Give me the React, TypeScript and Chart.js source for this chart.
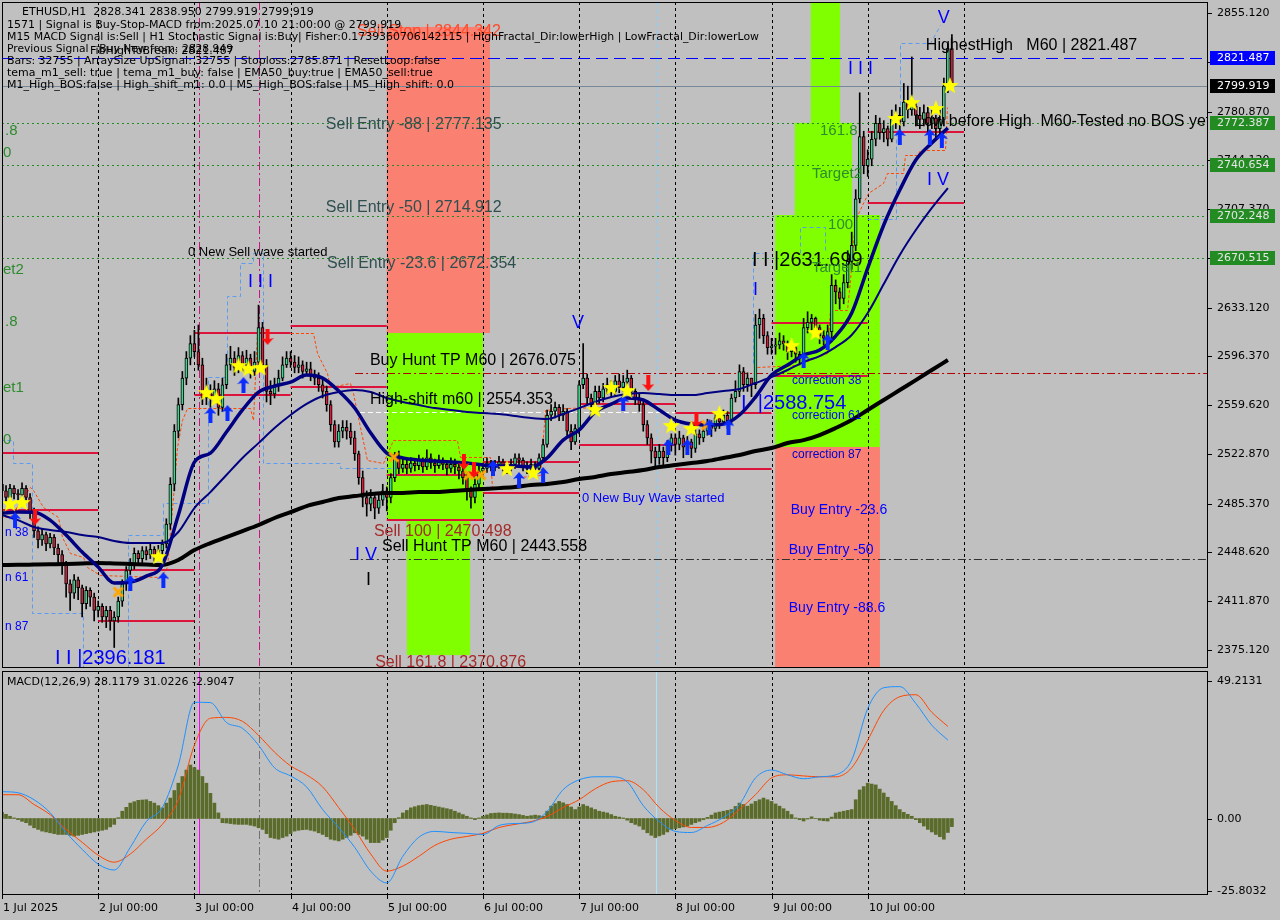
import React, { useEffect, useRef } from "react";
import { Chart, registerables } from "chart.js";

Chart.register(...registerables);

// ---------------- data ----------------
const FIRST_OPEN = 2500;

const closes = [
  2495, 2490, 2497, 2493, 2492, 2497, 2490, 2478, 2465, 2458, 2462, 2455, 2460, 2452, 2447, 2440, 2425, 2418, 2428, 2422, 2410, 2420, 2415, 2405,
  2408, 2400, 2405, 2397, 2400, 2412, 2425, 2435, 2440, 2448, 2444, 2450, 2447, 2451, 2446, 2450, 2455, 2470, 2500, 2540, 2560, 2580, 2595, 2606,
  2600, 2590, 2565, 2570, 2565, 2572, 2558, 2575, 2590, 2595, 2588, 2597, 2590, 2595, 2585, 2592, 2618, 2590, 2570, 2568, 2575, 2580, 2590, 2595,
  2592, 2588, 2590, 2585, 2587, 2582, 2580, 2575, 2570, 2560, 2545, 2532, 2540, 2543, 2540, 2535, 2523, 2505, 2490, 2485, 2490, 2482, 2488, 2495,
  2490, 2505, 2520, 2512, 2515, 2512, 2516, 2514, 2518, 2513, 2520, 2516, 2514, 2518, 2515, 2512, 2515, 2513, 2510, 2505, 2495, 2490, 2500, 2510,
  2512, 2516, 2513, 2515, 2517, 2514, 2512, 2515, 2520, 2518, 2514, 2512, 2515, 2512, 2520, 2530, 2552, 2555, 2558, 2552, 2555, 2540, 2532, 2542,
  2575, 2580, 2565, 2560, 2570, 2565, 2572, 2575, 2570, 2578, 2573, 2577, 2580, 2570, 2565, 2560, 2545, 2535, 2525, 2520, 2525, 2520, 2530, 2535,
  2530, 2535, 2528, 2532, 2527, 2538, 2535, 2540, 2545, 2542, 2550, 2547, 2552, 2548, 2565, 2570, 2585, 2575, 2580, 2575, 2620, 2625, 2612, 2603,
  2604, 2605, 2608, 2606, 2600, 2603, 2598, 2595, 2618, 2622, 2625, 2618, 2612, 2610, 2615, 2650, 2645, 2640, 2652, 2668, 2680, 2715, 2762, 2740,
  2745, 2760, 2772, 2765, 2768, 2760, 2775, 2778, 2773, 2788, 2782, 2785, 2778, 2775, 2780, 2772, 2776, 2768, 2775, 2800, 2828.341, 2799.919,
];

const highs = [
  2504, 2499, 2500, 2499, 2496, 2501, 2499, 2493, 2482, 2468, 2466, 2464, 2463, 2462, 2455, 2450, 2442, 2428, 2432, 2430, 2424, 2423, 2422, 2418,
  2412, 2410, 2408, 2408, 2404, 2415, 2428, 2438, 2444, 2452, 2450, 2453, 2453, 2455, 2453, 2454, 2458, 2474, 2505, 2545, 2565, 2585, 2600, 2612,
  2616, 2620, 2595, 2580, 2575, 2578, 2576, 2580, 2598, 2604, 2600, 2603, 2600, 2601, 2598, 2600, 2635, 2622, 2594, 2578, 2580, 2586, 2596, 2600,
  2600, 2597, 2596, 2593, 2592, 2592, 2586, 2584, 2580, 2574, 2563, 2548, 2545, 2548, 2548, 2546, 2540, 2525, 2510, 2495, 2496, 2493, 2492, 2500,
  2498, 2508, 2524, 2525, 2520, 2518, 2520, 2519, 2522, 2520, 2526, 2523, 2519, 2522, 2520, 2518, 2520, 2519, 2516, 2514, 2509, 2498, 2504, 2514,
  2516, 2520, 2518, 2518, 2521, 2519, 2516, 2519, 2523, 2523, 2520, 2517, 2519, 2517, 2523, 2534, 2556, 2560, 2562, 2560, 2560, 2557, 2545, 2545,
  2578, 2606, 2583, 2568, 2574, 2574, 2576, 2580, 2578, 2582, 2583, 2582, 2586, 2582, 2572, 2568, 2562, 2548, 2538, 2528, 2530, 2528, 2533, 2538,
  2538, 2540, 2537, 2536, 2534, 2542, 2541, 2545, 2549, 2548, 2554, 2553, 2556, 2555, 2568, 2578, 2590, 2588, 2584, 2580, 2628, 2632, 2628, 2615,
  2610, 2610, 2614, 2612, 2608, 2607, 2604, 2600, 2625, 2630, 2628, 2626, 2620, 2616, 2620, 2658, 2654, 2648, 2658, 2676, 2690, 2722, 2795, 2766,
  2752, 2766, 2778, 2776, 2774, 2770, 2782, 2786, 2784, 2802, 2800, 2822, 2788, 2784, 2786, 2784, 2782, 2778, 2782, 2806, 2832, 2838.95,
];

const lows = [
  2490, 2486, 2488, 2489, 2488, 2490, 2486, 2474, 2460, 2452, 2454, 2450, 2452, 2447, 2440, 2432, 2415, 2405, 2414, 2413, 2400, 2406, 2408, 2397,
  2400, 2396, 2392, 2390, 2377, 2396, 2408, 2420, 2432, 2436, 2440, 2441, 2443, 2444, 2442, 2443, 2447, 2452, 2466, 2495, 2535, 2556, 2575, 2590,
  2596, 2586, 2560, 2560, 2558, 2562, 2552, 2555, 2572, 2586, 2582, 2584, 2585, 2586, 2580, 2582, 2588, 2585, 2562, 2560, 2565, 2570, 2578, 2588,
  2588, 2584, 2584, 2580, 2582, 2578, 2575, 2570, 2565, 2555, 2540, 2528, 2528, 2535, 2534, 2530, 2518, 2500, 2483, 2476, 2480, 2474, 2478, 2484,
  2480, 2486, 2502, 2508, 2509, 2508, 2509, 2510, 2511, 2509, 2511, 2512, 2509, 2512, 2511, 2507, 2509, 2508, 2504, 2500, 2488, 2482, 2486, 2496,
  2507, 2509, 2510, 2510, 2512, 2510, 2508, 2510, 2512, 2514, 2510, 2508, 2509, 2508, 2510, 2518, 2528, 2548, 2550, 2548, 2548, 2536, 2526, 2530,
  2538, 2572, 2560, 2555, 2557, 2561, 2562, 2568, 2566, 2566, 2569, 2570, 2574, 2566, 2560, 2555, 2540, 2530, 2516, 2513, 2515, 2514, 2517, 2525,
  2522, 2526, 2520, 2524, 2520, 2524, 2530, 2532, 2537, 2536, 2540, 2542, 2545, 2542, 2545, 2562, 2566, 2570, 2570, 2566, 2572, 2610, 2606, 2598,
  2598, 2598, 2602, 2601, 2594, 2596, 2592, 2590, 2592, 2614, 2616, 2612, 2606, 2605, 2606, 2610, 2636, 2632, 2636, 2648, 2662, 2676, 2712, 2734,
  2732, 2740, 2755, 2760, 2758, 2755, 2758, 2768, 2766, 2770, 2776, 2778, 2770, 2768, 2770, 2765, 2768, 2760, 2762, 2770, 2795, 2799.919,
];

// moving averages, one value every MA_STEP bars
const MA_STEP = 4;
const maFast = [
  2478.3, 2479.1, 2479.0, 2473.0, 2461.7, 2448.9, 2437.6, 2425.6, 2426.3, 2430.8,
  2439.1, 2476.8, 2516.7, 2523.5, 2539.4, 2556.0, 2569.5, 2574.0, 2577.0, 2582.3,
  2580.0, 2570.3, 2557.5, 2538.6, 2523.5, 2519.8, 2518.3, 2517.5, 2516.8, 2516.0,
  2514.5, 2513.7, 2513.7, 2513.0, 2519.8, 2533.3, 2540.9, 2554.4, 2560.4, 2565.0,
  2563.5, 2556.0, 2548.4, 2545.4, 2544.6, 2545.4, 2552.2, 2565.7, 2582.3, 2589.8,
  2597.4, 2601.2, 2611.7, 2629.0, 2662.9, 2695.4, 2721.7, 2744.3, 2757.2, 2768.5,
];
const maMid = [
  2476.8, 2473.0, 2467.8, 2465.5, 2464.0, 2461.7, 2460.2, 2457.2, 2455.7, 2455.7,
  2455.7, 2464.0, 2482.1, 2494.1, 2507.0, 2519.8, 2531.0, 2542.4, 2552.2, 2560.5,
  2566.5, 2569.5, 2571.0, 2569.5, 2565.0, 2562.0, 2559.7, 2557.4, 2556.0, 2554.4,
  2553.7, 2552.9, 2551.4, 2549.9, 2549.2, 2552.9, 2557.4, 2562.0, 2565.7, 2568.0,
  2568.7, 2568.0, 2567.2, 2567.2, 2568.7, 2570.3, 2571.8, 2576.3, 2580.8, 2586.1,
  2592.1, 2596.6, 2603.4, 2612.5, 2629.0, 2650.9, 2672.8, 2691.6, 2708.2, 2723.2,
];
const ma200 = [
  2439.2, 2439.3, 2439.5, 2439.7, 2439.9, 2440.3, 2440.6, 2440.3, 2439.9, 2439.5,
  2439.2, 2442.9, 2450.4, 2455.7, 2460.2, 2464.7, 2469.3, 2474.6, 2479.0, 2483.6,
  2486.6, 2489.6, 2491.1, 2492.6, 2493.4, 2493.4, 2494.1, 2494.1, 2494.9, 2495.7,
  2496.4, 2497.1, 2497.9, 2499.4, 2500.2, 2501.7, 2503.9, 2505.5, 2507.7, 2509.2,
  2510.7, 2513.0, 2514.5, 2516.0, 2517.5, 2519.8, 2522.0, 2525.1, 2527.3, 2531.1,
  2533.3, 2537.1, 2542.4, 2548.4, 2556.0, 2563.5, 2571.0, 2578.5, 2586.1, 2593.6,
];

// channel (light blue dashed) step paths: [bar index, price]
const channelPaths = [
  [[-0.5, 2533.3], [2.74, 2533.3], [2.74, 2516.0], [7.48, 2516.0], [7.48, 2402.9], [20.2, 2402.9], [20.2, 2361.5]],
  [[31.4, 2361.5], [31.4, 2461.7], [40.2, 2461.7], [40.2, 2485.8], [51.4, 2485.8], [51.4, 2580.8], [56.1, 2580.8], [56.1, 2641.9], [59.4, 2641.9], [59.4, 2666.7], [62.6, 2666.7], [62.6, 2674.3], [65.1, 2674.3], [65.1, 2516.0], [84.3, 2516.0], [84.3, 2512.2], [99.3, 2512.2]],
  [[187.4, 2591.4], [187.4, 2674.3], [189.9, 2674.3]],
  [[199.1, 2674.3], [199.1, 2693.8], [205.3, 2693.8], [205.3, 2674.3]],
  [[215.8, 2699.9], [223.0, 2699.9], [223.0, 2766.9], [224.0, 2766.9], [224.0, 2832.5], [231.5, 2832.5], [234.0, 2846.1]],
];

// trailing stop (orange dashed) paths: [bar index, price]
const trailPaths = [
  [[-0.5, 2475.3], [2.0, 2475.3], [7.0, 2497.9], [7.7, 2495.7], [10.2, 2482.8], [14.0, 2475.3], [15.0, 2460.2], [17.0, 2448.2], [20.2, 2445.2], [21.2, 2437.6], [24.4, 2431.6], [39.4, 2430.1], [41.2, 2437.6], [42.7, 2490.4], [43.7, 2528.0], [44.9, 2548.4], [46.2, 2557.4], [61.9, 2557.4], [62.6, 2548.4], [63.6, 2614.0], [77.6, 2614.0], [78.6, 2598.9], [81.1, 2583.8], [81.8, 2573.3], [86.8, 2576.3], [87.6, 2568.7], [89.3, 2543.1], [91.1, 2518.3], [95.1, 2516.0], [97.5, 2533.3], [113.5, 2533.3], [114.3, 2520.5], [121.7, 2520.5], [122.2, 2497.9], [128.5, 2497.9], [129.2, 2505.4], [134.2, 2507.0], [135.5, 2555.9], [141.0, 2557.4], [149.2, 2558.2]],
  [[188.4, 2588.3], [198.3, 2589.8], [205.8, 2598.9], [206.6, 2631.3], [210.8, 2631.3], [211.6, 2653.9], [212.8, 2699.1], [214.6, 2710.4], [216.0, 2719.5], [219.8, 2727.0], [220.8, 2734.5], [224.8, 2734.5], [225.3, 2748.1], [228.3, 2748.1], [229.0, 2751.9], [235.3, 2751.9], [235.8, 2784.3]],
];

// MACD lines, one value every MACD_STEP bars
const MACD_STEP = 4;
const macdMain = [
  9.6, 9.2, 6.7, 2.1, -5.0, -11.0, -16.3, -18.4, -10.3, -1.1,
  3.9, 19.1, 41.5, 41.4, 34.3, 32.2, 26.2, 18.1, 15.2, 11.3,
  3.2, -3.2, -10.3, -18.8, -23.0, -13.5, -6.7, -4.6, -5.0, -5.3,
  -5.7, -2.5, -1.8, -1.4, 2.5, 10.3, 13.8, 14.9, 14.9, 13.1,
  4.6, -1.1, -4.6, -5.0, -2.5, 0.4, 5.0, 14.5, 17.3, 15.6,
  14.2, 14.9, 15.6, 20.9, 39.3, 46.7, 47.1, 41.1, 33.3, 28.0,
];
const macdSignal = [
  8.5, 8.5, 5.0, 1.4, -3.9, -8.5, -13.1, -15.6, -12.7, -7.4,
  -2.1, 6.7, 26.2, 35.8, 36.1, 34.7, 29.7, 23.7, 18.8, 15.6,
  11.3, 3.9, -3.9, -12.7, -18.8, -17.0, -13.5, -9.6, -7.4, -6.4,
  -5.3, -3.2, -2.1, -1.1, 0.7, 3.9, 6.7, 10.6, 13.1, 13.5,
  10.3, 3.9, -0.7, -3.2, -3.2, -1.4, 3.2, 8.5, 14.5, 15.6,
  15.2, 14.9, 14.9, 18.1, 28.0, 38.6, 43.5, 44.2, 37.9, 32.9,
];
const macdHist = [
  2.2, 1.5, 0.8, 0.2, -0.4, -1.0, -1.5, -2.4, -3.3, -3.9, -4.5, -4.8, -5.1, -5.4, -5.7, -5.7, -5.7, -6.0, -6.3, -6.0, -5.7, -5.4, -5.1, -4.8,
  -4.5, -4.2, -3.9, -3.0, -2.1, 0.3, 2.6, 4.0, 5.5, 6.0, 6.5, 6.6, 6.7, 6.1, 5.5, 4.6, 3.8, 5.5, 7.3, 10.0, 12.6, 15.0, 17.3, 19.1,
  18.2, 17.3, 15.0, 12.6, 9.0, 5.5, 2.0, -1.5, -1.6, -1.8, -2.0, -2.1, -2.1, -2.1, -2.4, -2.7, -3.3, -3.9, -5.4, -6.8, -7.1, -7.4, -6.8, -6.3,
  -5.4, -4.5, -4.2, -4.0, -3.9, -4.2, -4.5, -5.1, -5.7, -6.5, -7.4, -7.7, -8.0, -7.4, -6.8, -6.0, -5.1, -5.7, -6.3, -7.4, -8.6, -8.6, -8.6, -7.7,
  -6.8, -4.2, -1.5, 0.3, 2.0, 2.9, 3.8, 4.2, 4.6, 4.8, 5.0, 4.7, 4.4, 4.1, 3.8, 3.5, 3.2, 2.6, 2.0, 1.4, 0.8, 0.2, -0.4, 0.2,
  0.8, 1.3, 1.8, 1.9, 2.0, 1.9, 1.9, 1.8, 1.6, 1.4, 1.1, 0.8, 1.0, 1.2, 1.0, 0.8, 2.6, 4.4, 5.3, 6.1, 5.6, 5.0, 4.1, 3.2,
  4.1, 5.0, 4.4, 3.8, 3.2, 2.6, 2.3, 2.0, 1.4, 0.8, 0.5, 0.2, -0.6, -1.5, -2.1, -2.7, -3.9, -5.1, -6.0, -6.8, -6.2, -5.7, -4.8, -3.9,
  -3.6, -3.3, -3.0, -2.7, -2.1, -1.5, -1.0, -0.4, 0.4, 1.2, 2.0, 2.3, 2.6, 2.9, 3.2, 4.3, 5.5, 5.0, 4.4, 5.2, 6.1, 6.7, 7.3, 6.7,
  6.1, 5.2, 4.4, 3.5, 2.6, 1.4, 0.2, -0.4, -0.9, -0.2, 0.6, 0.05, -0.6, -0.8, -0.9, 0.5, 2.0, 2.3, 2.6, 2.9, 3.2, 6.7, 10.2, 11.4,
  12.6, 12.3, 12.0, 10.5, 9.1, 7.6, 6.1, 4.6, 3.2, 2.2, 1.5, 0.8, -0.4, -1.5, -2.7, -3.9, -4.8, -5.7, -6.5, -7.4, -5.0, -2.9,
];

const priceTicks = [2855.12, 2818.37, 2780.87, 2744.12, 2707.37, 2670.62, 2633.12, 2596.37, 2559.62, 2522.87, 2485.37, 2448.62, 2411.87, 2375.12];
const macdTicks = [49.2131, 0, -25.8032];
const macdTickLabels = ["49.2131", "0.00", "-25.8032"];
const dayTicks = [0, 24, 48, 72, 96, 120, 144, 168, 192, 216];
const dayLabels = ["1 Jul 2025", "2 Jul 00:00", "3 Jul 00:00", "4 Jul 00:00", "5 Jul 00:00", "6 Jul 00:00", "7 Jul 00:00", "8 Jul 00:00", "9 Jul 00:00", "10 Jul 00:00"];

const priceTags = [
  { v: 2821.487, bg: "#0000ff", fg: "#ffffff" },
  { v: 2799.919, bg: "#000000", fg: "#ffffff" },
  { v: 2772.387, bg: "#228b22", fg: "#e6e6e6" },
  { v: 2740.654, bg: "#228b22", fg: "#e6e6e6" },
  { v: 2702.248, bg: "#228b22", fg: "#e6e6e6" },
  { v: 2670.515, bg: "#228b22", fg: "#e6e6e6" },
];

// markers: [bar index, price]
const starPts = [[2, 2485.8], [5, 2486.6], [39, 2445.9], [51, 2569.5], [53.5, 2565], [59, 2589.8], [61.5, 2587.6], [64.5, 2588.3], [126, 2512.2], [132.5, 2509.2], [148, 2556.7], [152, 2573.3], [156, 2571], [167, 2544.6], [172, 2542.4], [179, 2553.7], [197, 2604.9], [203, 2614.7], [223, 2776], [227, 2788], [233, 2783.5], [236.5, 2800.9]];
const upArrowPts = [[3.25, 2473], [32, 2425.6], [40.25, 2427.8], [52, 2552.2], [56.25, 2553.7], [60.25, 2574.8], [122.5, 2512.2], [129, 2503.2], [135, 2507], [155, 2561.2], [166.25, 2528.1], [171, 2528.1], [176.5, 2543.1], [181.25, 2543.1], [200, 2593.6], [206, 2607.2], [224, 2761.7], [231.5, 2761.7], [234.5, 2759.4]];
const downArrowPts = [[8.25, 2475.3], [66.25, 2611], [115.25, 2516.8], [117.75, 2510.7], [161.25, 2576.3], [173.25, 2548.4]];
const crossPts = [[29, 2418.8], [97.75, 2520.5], [116.5, 2507], [119.5, 2507], [175.75, 2544.6]];

// zones: bar range and price range
const zones = [
  { x0: 96, x1: 121.75, p0: 2614.0, p1: 2844.6, color: "#fa8072" },
  { x0: 96, x1: 120, p0: 2473.0, p1: 2614.0, color: "#7fff00" },
  { x0: 101, x1: 116.8, p0: 2371.3, p1: 2473.0, color: "#7fff00" },
  { x0: 201.8, x1: 209.1, p0: 2772.3, p1: 2870, color: "#7fff00" },
  { x0: 197.8, x1: 212.1, p0: 2702.9, p1: 2772.3, color: "#7fff00" },
  { x0: 192.9, x1: 219.05, p0: 2528.1, p1: 2702.9, color: "#7fff00" },
  { x0: 192.9, x1: 219.05, p0: 2355, p1: 2528.1, color: "#fa8072" },
];

const redSegs = [
  [0, 24, 2523.5], [0, 24, 2480.6],
  [24, 48, 2435.4], [24, 48, 2397.0],
  [48, 72, 2614.0], [48, 72, 2567.3],
  [72, 96, 2619.3], [72, 96, 2573.3],
  [96, 120, 2506.9], [96, 120, 2473.0],
  [120, 144, 2516.8], [120, 144, 2493.4],
  [144, 168, 2560.5], [144, 168, 2529.6],
  [168, 192, 2553.7], [168, 192, 2511.5],
  [192, 216, 2621.5], [192, 216, 2581.6],
  [216, 240, 2765.4], [216, 240, 2711.9],
];

const levels = [
  { p: 2821.487, from: 0, to: 301, color: "#0000ff", dash: [12, 6] },
  { p: 2799.919, from: 0, to: 301, color: "#778899", dash: [] },
  { p: 2772.387, from: 0, to: 301, color: "#228b22", dash: [2, 3] },
  { p: 2740.654, from: 0, to: 301, color: "#228b22", dash: [2, 3] },
  { p: 2702.248, from: 0, to: 301, color: "#228b22", dash: [2, 3] },
  { p: 2670.515, from: 0, to: 301, color: "#228b22", dash: [2, 3] },
  { p: 2583.8, from: 88.1, to: 301, color: "#b00000", dash: [8, 3, 2, 3] },
  { p: 2554.4, from: 89.3, to: 192.4, color: "#ffffff", dash: [5, 3] },
  { p: 2443.6, from: 86.8, to: 301, color: "#303030", dash: [8, 3, 2, 3] },
];

const SE = "#2f4f4f";
const BR = "#a52a2a";
const BL = "#0000ff";
const GR = "#2e8b2e";
const texts = [
  { i: 88.6, p: 2840.8, t: "Sell Stop | 2844.342", c: "#ff4a2a", s: 16 },
  { i: 80.8, p: 2770.7, t: "Sell Entry -88 | 2777.135", c: SE, s: 16 },
  { i: 80.8, p: 2708.2, t: "Sell Entry -50 | 2714.912", c: SE, s: 16 },
  { i: 81.1, p: 2666.0, t: "Sell Entry -23.6 | 2672.354", c: SE, s: 16 },
  { i: 46.4, p: 2675.0, t: "0 New Sell wave started", c: "#000000", s: 13 },
  { i: 61.4, p: 2652.4, t: "I I I", c: BL, s: 18 },
  { i: 91.8, p: 2592.9, t: "Buy Hunt TP M60 | 2676.075", c: "#000000", s: 16 },
  { i: 91.8, p: 2563.5, t: "High-shift m60 | 2554.353", c: "#000000", s: 16 },
  { i: 92.8, p: 2464.0, t: "Sell 100 | 2470.498", c: BR, s: 16 },
  { i: 94.8, p: 2452.7, t: "Sell Hunt TP M60 | 2443.558", c: "#000000", s: 16 },
  { i: 88.1, p: 2446.7, t: "I V", c: BL, s: 18 },
  { i: 90.8, p: 2427.8, t: "I", c: "#000000", s: 18 },
  { i: 93.1, p: 2365.3, t: "Sell 161.8 | 2370.876", c: BR, s: 16 },
  { i: 142.2, p: 2621.5, t: "V", c: BL, s: 18 },
  { i: 144.7, p: 2489.6, t: "0 New Buy Wave started", c: BL, s: 13 },
  { i: 187.1, p: 2669.0, t: "I I |2631.699", c: "#000000", s: 20 },
  { i: 187.4, p: 2646.4, t: "I", c: BL, s: 18 },
  { i: 184.4, p: 2561.2, t: "I  |2588.754", c: BL, s: 20 },
  { i: 197.1, p: 2577.8, t: "correction 38", c: BL, s: 12 },
  { i: 197.1, p: 2551.4, t: "correction 61", c: BL, s: 12 },
  { i: 197.1, p: 2522.0, t: "correction 87", c: "#0000cd", s: 12 },
  { i: 196.8, p: 2480.6, t: "Buy Entry -23.6", c: BL, s: 14 },
  { i: 196.3, p: 2450.4, t: "Buy Entry -50", c: BL, s: 14 },
  { i: 196.3, p: 2406.7, t: "Buy Entry -88.6", c: BL, s: 14 },
  { i: 204.1, p: 2766.2, t: "161.8", c: GR, s: 15 },
  { i: 202.1, p: 2733.8, t: "Target2", c: GR, s: 15 },
  { i: 206.1, p: 2695.4, t: "100", c: GR, s: 15 },
  { i: 202.1, p: 2662.9, t: "Target1", c: GR, s: 15 },
  { i: 211.1, p: 2812.9, t: "I I I", c: BL, s: 18 },
  { i: 233.5, p: 2851.4, t: "V", c: BL, s: 18 },
  { i: 230.8, p: 2729.3, t: "I V", c: BL, s: 18 },
  { i: 230.5, p: 2830.3, t: "HighestHigh   M60 | 2821.487", c: "#000000", s: 16 },
  { i: 227.8, p: 2773.0, t: "Low before High  M60-Tested no BOS yet", c: "#000000", s: 16 },
  { i: 0.75, p: 2766.2, t: ".8", c: GR, s: 15 },
  { i: 0.25, p: 2749.6, t: "0", c: GR, s: 15 },
  { i: 0.25, p: 2661.4, t: "et2", c: GR, s: 15 },
  { i: 0.75, p: 2622.3, t: ".8", c: GR, s: 15 },
  { i: 0.25, p: 2572.5, t: "et1", c: GR, s: 15 },
  { i: 0.25, p: 2533.3, t: "0", c: GR, s: 15 },
  { i: 0.75, p: 2463.3, t: "n 38", c: BL, s: 12 },
  { i: 0.75, p: 2429.3, t: "n 61", c: BL, s: 12 },
  { i: 0.75, p: 2392.4, t: "n 87", c: BL, s: 12 },
  { i: 13.2, p: 2369.0, t: "I I |2396.181", c: BL, s: 20 },
];

const infoLines = [
  { x: 22, y: 12, w: 295, t: "ETHUSD,H1  2828.341 2838.950 2799.919 2799.919" },
  { x: 7, y: 25, w: 396, t: "1571 | Signal is Buy-Stop-MACD from:2025.07.10 21:00:00 @ 2799.919" },
  { x: 7, y: 37, w: 752, t: "M15 MACD Signal is:Sell | H1 Stochastic Signal is:Buy| Fisher:0.1739360706142115 | HighFractal_Dir:lowerHigh | LowFractal_Dir:lowerLow" },
  { x: 7, y: 49, w: 226, t: "Previous Signal - Buy New from: 2828.949" },
  { x: 90, y: 51, w: 157, t: "FibHighToBreak: 2821.487" },
  { x: 7, y: 61, w: 433, t: "Bars: 32755 | ArraySize UpSignal: 32755 | Stoploss:2785.871 | ResetLoop:false" },
  { x: 7, y: 73, w: 436, t: "tema_m1_sell: true | tema_m1_buy: false | EMA50_buy:true | EMA50_sell:true" },
  { x: 7, y: 85, w: 456, t: "M1_High_BOS:false | High_shift_m1: 0.0 | M5_High_BOS:false | M5_High_shift: 0.0" },
];

// ---------------- styling constants ----------------
const X_MAX = 300.9;
const Y_MIN = 2361.556;
const Y_MAX = 2863.409;
const M_MIN = -27.32;
const M_MAX = 52.68;
const BULL = "#3ed68c";
const BEAR = "#d0203c";
const AXIS_FONT = '11px "DejaVu Sans", sans-serif';
const LBL_FAMILY = '"Liberation Sans", Arial, sans-serif';

const vLinesMain = [
  ...[24, 48, 72, 96, 120, 144, 168, 192, 216, 240].map((i) => ({ i, color: "#000000", dash: [3, 3] })),
  { i: 49.1, color: "#c71585", dash: [8, 3, 2, 3] },
  { i: 64.1, color: "#c71585", dash: [8, 3, 2, 3] },
  { i: 163.2, color: "#87cefa", dash: [4, 3] },
];
const vLinesMacd = [
  ...[24, 48, 72, 96, 120, 144, 168, 192, 216, 240].map((i) => ({ i, color: "#000000", dash: [3, 3] })),
  { i: 49.1, color: "#ff00ff", dash: [] },
  { i: 64.1, color: "#707070", dash: [8, 3, 2, 3] },
  { i: 163.2, color: "#a8e4ff", dash: [] },
];

function drawVLines(chart: any, list: any[]) {
  const { ctx, chartArea: a } = chart;
  const X = (v: number) => chart.scales.x.getPixelForValue(v);
  ctx.lineWidth = 1;
  for (const v of list) {
    const xx = Math.round(X(v.i)) + 0.5;
    ctx.strokeStyle = v.color;
    ctx.setLineDash(v.dash);
    ctx.beginPath();
    ctx.moveTo(xx, a.top);
    ctx.lineTo(xx, a.bottom);
    ctx.stroke();
  }
  ctx.setLineDash([]);
}

function drawPaths(chart: any, paths: number[][][], color: string, dash: number[]) {
  const { ctx } = chart;
  const X = (v: number) => chart.scales.x.getPixelForValue(v);
  const Y = (v: number) => chart.scales.y.getPixelForValue(v);
  ctx.strokeStyle = color;
  ctx.lineWidth = 1;
  ctx.setLineDash(dash);
  for (const path of paths) {
    ctx.beginPath();
    path.forEach(([i, p], k) => {
      const xx = Math.round(X(i)) + 0.5, yy = Math.round(Y(p)) + 0.5;
      if (k === 0) ctx.moveTo(xx, yy);
      else ctx.lineTo(xx, yy);
    });
    ctx.stroke();
  }
  ctx.setLineDash([]);
}

const mainOverlay = {
  id: "mainOverlay",
  beforeDatasetsDraw(chart: any) {
    const { ctx, chartArea: a } = chart;
    const X = (v: number) => chart.scales.x.getPixelForValue(v);
    const Y = (v: number) => chart.scales.y.getPixelForValue(v);
    ctx.save();
    ctx.beginPath();
    ctx.rect(a.left, a.top, a.right - a.left, a.bottom - a.top);
    ctx.clip();
    for (const z of zones) {
      const x0 = X(z.x0), x1 = X(z.x1), y0 = Y(z.p1), y1 = Y(z.p0);
      ctx.fillStyle = z.color;
      ctx.fillRect(x0, y0, x1 - x0, y1 - y0);
    }
    drawVLines(chart, vLinesMain);
    ctx.lineWidth = 1;
    for (const l of levels) {
      const yy = Math.round(Y(l.p)) + 0.5;
      ctx.strokeStyle = l.color;
      ctx.setLineDash(l.dash);
      ctx.beginPath();
      ctx.moveTo(X(l.from), yy);
      ctx.lineTo(X(l.to), yy);
      ctx.stroke();
    }
    drawPaths(chart, channelPaths, "#5b9cf0", [4, 3]);
    drawPaths(chart, trailPaths, "#ff4500", [3, 2]);
    ctx.setLineDash([]);
    ctx.strokeStyle = "#dc143c";
    ctx.lineWidth = 2;
    for (const s of redSegs) {
      const yy = Math.round(Y(s[2]));
      ctx.beginPath();
      ctx.moveTo(X(s[0]), yy);
      ctx.lineTo(X(s[1]), yy);
      ctx.stroke();
    }
    ctx.restore();
  },
  afterDatasetsDraw(chart: any) {
    const { ctx, chartArea: a } = chart;
    const X = (v: number) => chart.scales.x.getPixelForValue(v);
    const Y = (v: number) => chart.scales.y.getPixelForValue(v);
    ctx.save();
    ctx.beginPath();
    ctx.rect(a.left, a.top, a.right - a.left, a.bottom - a.top);
    ctx.clip();
    ctx.textBaseline = "middle";
    ctx.textAlign = "left";
    for (const t of texts) {
      ctx.font = `${t.s}px ${LBL_FAMILY}`;
      ctx.fillStyle = t.c;
      ctx.fillText(t.t, X(t.i), Y(t.p));
    }
    ctx.restore();
  },
  afterDraw(chart: any) {
    const { ctx, chartArea: a } = chart;
    const Y = (v: number) => chart.scales.y.getPixelForValue(v);
    ctx.save();
    ctx.strokeStyle = "#000";
    ctx.lineWidth = 1;
    ctx.setLineDash([]);
    ctx.strokeRect(a.left + 0.5, a.top + 0.5, a.right - a.left - 1, a.bottom - a.top - 1);
    ctx.font = AXIS_FONT;
    ctx.textBaseline = "middle";
    ctx.textAlign = "left";
    ctx.fillStyle = "#000";
    for (const v of priceTicks) {
      const yy = Math.round(Y(v)) + 0.5;
      ctx.beginPath();
      ctx.moveTo(a.right, yy);
      ctx.lineTo(a.right + 4, yy);
      ctx.stroke();
      ctx.fillText(v.toFixed(3), a.right + 9, yy);
    }
    for (const g of priceTags) {
      const yy = Math.round(Y(g.v));
      ctx.fillStyle = g.bg;
      ctx.fillRect(a.right + 2, yy - 7, 65, 14);
      ctx.fillStyle = g.fg;
      ctx.fillText(g.v.toFixed(3), a.right + 9, yy + 0.5);
    }
    ctx.fillStyle = "#000";
    for (const l of infoLines) {
      ctx.fillText(l.t, l.x, l.y, l.w);
    }
    ctx.restore();
  },
};

const macdOverlay = {
  id: "macdOverlay",
  beforeDatasetsDraw(chart: any) {
    const { ctx, chartArea: a } = chart;
    ctx.save();
    ctx.beginPath();
    ctx.rect(a.left, a.top, a.right - a.left, a.bottom - a.top);
    ctx.clip();
    drawVLines(chart, vLinesMacd);
    ctx.restore();
  },
  afterDraw(chart: any) {
    const { ctx, chartArea: a } = chart;
    const X = (v: number) => chart.scales.x.getPixelForValue(v);
    const Y = (v: number) => chart.scales.y.getPixelForValue(v);
    ctx.save();
    ctx.strokeStyle = "#000";
    ctx.lineWidth = 1;
    ctx.setLineDash([]);
    ctx.strokeRect(a.left + 0.5, a.top + 0.5, a.right - a.left - 1, a.bottom - a.top - 1);
    ctx.font = AXIS_FONT;
    ctx.fillStyle = "#000";
    ctx.textBaseline = "middle";
    ctx.textAlign = "left";
    macdTicks.forEach((v, k) => {
      const yy = Math.round(Y(v)) + 0.5;
      ctx.beginPath();
      ctx.moveTo(a.right, yy);
      ctx.lineTo(a.right + 4, yy);
      ctx.stroke();
      ctx.fillText(macdTickLabels[k], a.right + 9, yy);
    });
    dayTicks.forEach((i, k) => {
      const xx = Math.round(X(i)) + 0.5;
      ctx.beginPath();
      ctx.moveTo(xx, a.bottom);
      ctx.lineTo(xx, a.bottom + 4);
      ctx.stroke();
      ctx.fillText(dayLabels[k], xx + 0.5, a.bottom + 13);
    });
    ctx.fillText("MACD(12,26,9) 28.1179 31.0226 -2.9047", 7, a.top + 11);
    ctx.restore();
  },
};

// ---------------- marker images ----------------
function makeStar(size: number, color: string) {
  const c = document.createElement("canvas");
  c.width = size;
  c.height = size;
  const g = c.getContext("2d") as CanvasRenderingContext2D;
  const cx = size / 2, cy = size / 2 + 1, R = size / 2, r = R * 0.42;
  g.beginPath();
  for (let k = 0; k < 10; k++) {
    const ang = -Math.PI / 2 + (k * Math.PI) / 5;
    const rr = k % 2 === 0 ? R : r;
    const x = cx + rr * Math.cos(ang), y = cy + rr * Math.sin(ang);
    if (k === 0) g.moveTo(x, y);
    else g.lineTo(x, y);
  }
  g.closePath();
  g.fillStyle = color;
  g.fill();
  return c;
}
function makeArrow(color: string, up: boolean) {
  const w = 12, h = 16;
  const c = document.createElement("canvas");
  c.width = w;
  c.height = h;
  const g = c.getContext("2d") as CanvasRenderingContext2D;
  const pts = [[6, 0], [12, 7], [8, 6], [8, 16], [4, 16], [4, 6], [0, 7]];
  g.beginPath();
  pts.forEach(([x, y], k) => {
    const yy = up ? y : h - y;
    if (k === 0) g.moveTo(x, yy);
    else g.lineTo(x, yy);
  });
  g.closePath();
  g.fillStyle = color;
  g.fill();
  return c;
}
function makeCross(color: string) {
  const s = 13;
  const c = document.createElement("canvas");
  c.width = s;
  c.height = s;
  const g = c.getContext("2d") as CanvasRenderingContext2D;
  g.strokeStyle = color;
  g.lineWidth = 3;
  g.beginPath();
  g.moveTo(2, 2);
  g.lineTo(11, 11);
  g.moveTo(11, 2);
  g.lineTo(2, 11);
  g.stroke();
  return c;
}

const toPts = (arr: number[][]) => arr.map(([i, p]) => ({ x: i, y: p }));
const stepLine = (arr: number[], step: number) => arr.map((v, k) => ({ x: k * step, y: v }));

function buildMainConfig(star: any, up: any, down: any, cross: any) {
  const opens = closes.map((c, i) => (i === 0 ? FIRST_OPEN : closes[i - 1]));
  const bodies = closes.map((c, i) => ({ x: i, y: [opens[i], c] }));
  const wicks = closes.map((_, i) => ({ x: i, y: [lows[i], highs[i]] }));
  const colors = closes.map((c, i) => (c >= opens[i] ? BULL : BEAR));
  const marker = (data: any, style: any) => ({ type: "line", data, showLine: false, pointStyle: style, pointRadius: 6, pointHoverRadius: 6, order: 0 });
  const maLine = (data: any, color: string, width: number, order: number) => ({ type: "line", data, borderColor: color, borderWidth: width, pointRadius: 0, cubicInterpolationMode: "monotone", fill: false, order });
  return {
    type: "bar",
    data: {
      datasets: [
        marker(toPts(starPts), star),
        marker(toPts(upArrowPts), up),
        marker(toPts(downArrowPts), down),
        marker(toPts(crossPts), cross),
        maLine(stepLine(maFast, MA_STEP), "#000080", 3.5, 1),
        maLine(stepLine(maMid, MA_STEP), "#000080", 2, 2),
        maLine(stepLine(ma200, MA_STEP), "#000000", 4, 3),
        { type: "bar", data: bodies, backgroundColor: colors, borderColor: "#000000", borderWidth: 1, borderSkipped: false, barThickness: 3, grouped: false, minBarLength: 1, order: 4 },
        { type: "bar", data: wicks, backgroundColor: "#000000", borderWidth: 0, barThickness: 1, grouped: false, order: 5 },
      ],
    },
    options: {
      responsive: false,
      animation: false,
      devicePixelRatio: 1,
      events: [],
      layout: { autoPadding: false, padding: { left: 2, top: 2, right: 72, bottom: 2 } },
      plugins: { legend: { display: false }, tooltip: { enabled: false } },
      scales: {
        x: { type: "linear", min: 0, max: X_MAX, offset: false, display: false },
        y: { type: "linear", min: Y_MIN, max: Y_MAX, display: false },
      },
    },
    plugins: [mainOverlay],
  };
}

function buildMacdConfig() {
  return {
    type: "bar",
    data: {
      datasets: [
        { type: "line", data: stepLine(macdMain, MACD_STEP), borderColor: "#1e90ff", borderWidth: 1, pointRadius: 0, cubicInterpolationMode: "monotone", order: 0 },
        { type: "line", data: stepLine(macdSignal, MACD_STEP), borderColor: "#ff4500", borderWidth: 1, pointRadius: 0, cubicInterpolationMode: "monotone", order: 1 },
        { type: "bar", data: macdHist.map((v, i) => ({ x: i, y: v })), backgroundColor: "#5b6b2b", borderWidth: 0, barThickness: 3, grouped: false, order: 2 },
      ],
    },
    options: {
      responsive: false,
      animation: false,
      devicePixelRatio: 1,
      events: [],
      layout: { autoPadding: false, padding: { left: 2, top: 1, right: 72, bottom: 25 } },
      plugins: { legend: { display: false }, tooltip: { enabled: false } },
      scales: {
        x: { type: "linear", min: 0, max: X_MAX, offset: false, display: false },
        y: { type: "linear", min: M_MIN, max: M_MAX, display: false },
      },
    },
    plugins: [macdOverlay],
  };
}

export default function App() {
  const mainRef = useRef<HTMLCanvasElement | null>(null);
  const macdRef = useRef<HTMLCanvasElement | null>(null);
  useEffect(() => {
    const star = makeStar(18, "#ffff00");
    const up = makeArrow("#0a2cff", true);
    const down = makeArrow("#ff1010", false);
    const cross = makeCross("#ffa500");
    const main = new Chart(mainRef.current as HTMLCanvasElement, buildMainConfig(star, up, down, cross) as any);
    const macd = new Chart(macdRef.current as HTMLCanvasElement, buildMacdConfig() as any);
    return () => {
      main.destroy();
      macd.destroy();
    };
  }, []);
  return (
    <div style={{ position: "absolute", left: 0, top: 0, width: 1280, height: 920, background: "#c0c0c0", overflow: "hidden" }}>
      <div style={{ position: "absolute", left: 0, top: 0, width: 1280, height: 670 }}>
        <canvas ref={mainRef} width={1280} height={670} style={{ display: "block" }} />
      </div>
      <div style={{ position: "absolute", left: 0, top: 670, width: 1280, height: 250 }}>
        <canvas ref={macdRef} width={1280} height={250} style={{ display: "block" }} />
      </div>
    </div>
  );
}
